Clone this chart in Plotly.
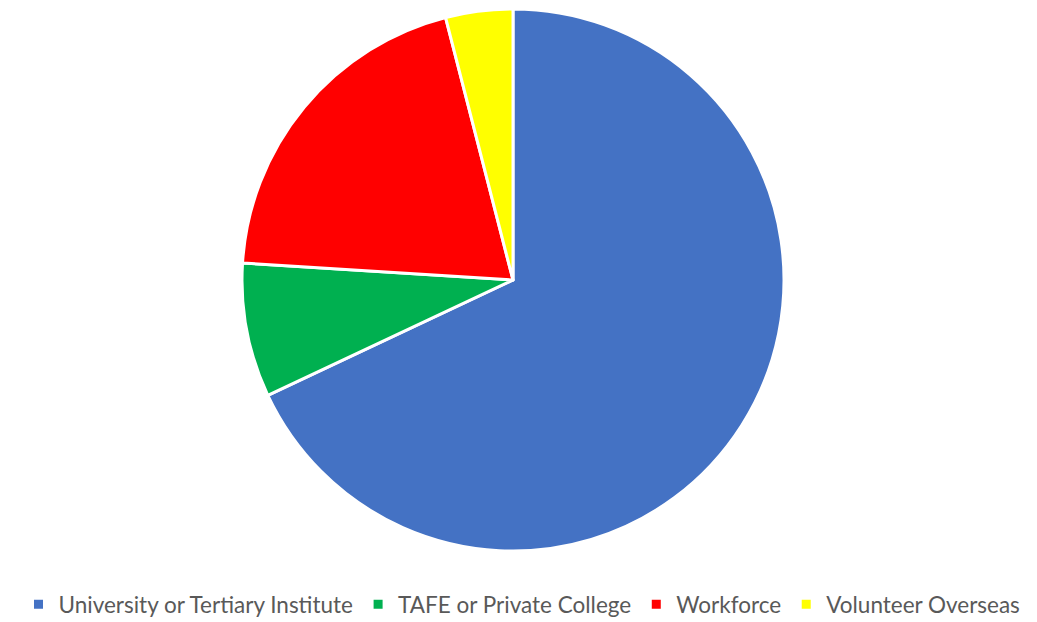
import plotly.graph_objects as go

categories = ["University or Tertiary Institute", "TAFE or Private College", "Workforce", "Volunteer Overseas"]
values = [17, 2, 5, 1]
colors = ["#4472C4", "#00B050", "#FF0000", "#FFFF00"]

# page has an 8px body margin; figure sized so its bottom meets the window edge
W, H = 1021, 614
off = 8
cx, cy, r = 513 - off, 280 - off, 271

fig = go.Figure(go.Pie(
    labels=categories,
    values=values,
    sort=False,
    direction="clockwise",
    rotation=0,
    marker=dict(colors=colors, line=dict(color="white", width=3)),
    textinfo="none",
    hoverinfo="label+percent",
    domain=dict(x=[(cx - r) / W, (cx + r) / W], y=[(H - cy - r) / H, (H - cy + r) / H]),
))

fig.update_layout(
    width=W, height=H,
    margin=dict(l=0, r=0, t=0, b=0, autoexpand=False),
    paper_bgcolor="white",
    font=dict(family="Lato, Calibri, sans-serif", color="#595959"),
    legend=dict(
        orientation="h", x=(522 - off) / W, xanchor="center", y=-4 / H, yanchor="bottom",
        font=dict(size=22.5, color="#595959"),
        traceorder="normal",
    ),
)

fig.write_html("out.html")
